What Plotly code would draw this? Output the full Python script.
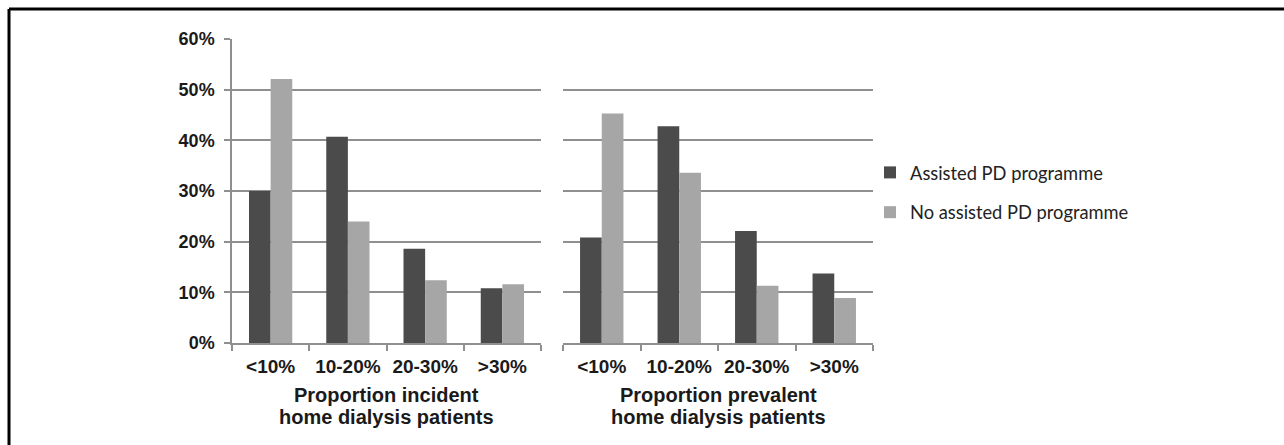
import plotly.graph_objects as go

categories = ["<10%", "10-20%", "20-30%", ">30%"]
incident_assisted = [30.0, 40.7, 18.6, 10.8]
incident_no_assisted = [52.1, 24.0, 12.4, 11.6]
prevalent_assisted = [20.8, 42.8, 22.1, 13.7]
prevalent_no_assisted = [45.3, 33.6, 11.3, 8.9]
y_ticks = [0, 10, 20, 30, 40, 50, 60]
y_tick_labels = ["0%", "10%", "20%", "30%", "40%", "50%", "60%"]
series_names = ["Assisted PD programme", "No assisted PD programme"]
panel_title_lines = [["Proportion incident", "home dialysis patients"],
                     ["Proportion prevalent", "home dialysis patients"]]

DARK = "#4b4b4b"
LIGHT = "#a6a6a6"
GRID = "#8f8f8f"
W, H = 1284, 445

fig = go.Figure()
fig.add_trace(go.Bar(x=categories, y=incident_assisted, name=series_names[0],
                     marker=dict(color=DARK, line=dict(width=0)),
                     xaxis="x", yaxis="y", legendgroup="a"))
fig.add_trace(go.Bar(x=categories, y=incident_no_assisted, name=series_names[1],
                     marker=dict(color=LIGHT, line=dict(width=0)),
                     xaxis="x", yaxis="y", legendgroup="b"))
fig.add_trace(go.Bar(x=categories, y=prevalent_assisted, name=series_names[0],
                     marker=dict(color=DARK, line=dict(width=0)),
                     xaxis="x2", yaxis="y2", legendgroup="a", showlegend=False))
fig.add_trace(go.Bar(x=categories, y=prevalent_no_assisted, name=series_names[1],
                     marker=dict(color=LIGHT, line=dict(width=0)),
                     xaxis="x2", yaxis="y2", legendgroup="b", showlegend=False))

ydom = [(H - 343) / H, (H - 39) / H]
FAM = "Liberation Sans, Arial, sans-serif"
tickfont_y = dict(family=FAM, size=18, color="#1a1a1a")
tickfont_x = dict(family=FAM, size=19, color="#1a1a1a")
titlefont = dict(family=FAM, size=20, color="#1a1a1a")

xdoms = [[232 / W, 541 / W], [563 / W, 873 / W]]
xcommon = dict(type="category", showgrid=False, showline=True, linecolor=GRID,
               linewidth=1.5, ticks="outside", tickson="boundaries", ticklen=6,
               tickcolor=GRID, tickwidth=1.5, tickfont=tickfont_x, automargin=False,
               ticklabelstandoff=5,
               tickvals=categories,
               ticktext=["<b>" + c.replace("<", "&lt;").replace(">", "&gt;") + "</b>"
                         for c in categories])
ycommon = dict(range=[0, 60], tickvals=y_ticks,
               ticktext=["<b>" + t + "</b>" for t in y_tick_labels],
               showgrid=True, gridcolor=GRID, gridwidth=1.5, zeroline=False,
               automargin=False, domain=ydom)

annotations = []
for i, lines in enumerate(panel_title_lines):
    cx = (xdoms[i][0] + xdoms[i][1]) / 2
    for j, (txt, ypix) in enumerate(zip(lines, [395, 417])):
        annotations.append(dict(text="<b>" + txt + "</b>", xref="paper", yref="paper",
                                x=cx, y=(H - ypix) / H, xanchor="center",
                                yanchor="middle", showarrow=False, font=titlefont))

fig.update_layout(
    width=W, height=H,
    margin=dict(l=0, r=0, t=0, b=0),
    paper_bgcolor="white", plot_bgcolor="white",
    barmode="group", bargap=0.44, bargroupgap=0.0,
    xaxis=dict(domain=xdoms[0], anchor="y", **xcommon),
    xaxis2=dict(domain=xdoms[1], anchor="y2", **xcommon),
    yaxis=dict(anchor="x", showline=True, linecolor=GRID, linewidth=1.5,
               ticks="outside", ticklen=6, tickcolor=GRID, tickwidth=1.5,
               ticklabelstandoff=6, tickfont=tickfont_y, **ycommon),
    yaxis2=dict(anchor="x2", showline=False, showticklabels=False, ticks="",
                **ycommon),
    legend=dict(x=870 / W, y=(H - 154) / H, xanchor="left", yanchor="top",
                font=dict(family="Lato, Carlito, sans-serif", size=18.3, color="#222222"),
                tracegroupgap=13, traceorder="grouped", bgcolor="rgba(0,0,0,0)",
                itemwidth=30),
    annotations=annotations,
    shapes=[
        dict(type="line", xref="paper", yref="paper", x0=9 / W, x1=9 / W,
             y0=(H - 9) / H, y1=-0.02, line=dict(color="black", width=3)),
        dict(type="line", xref="paper", yref="paper", x0=9 / W, x1=1.02,
             y0=(H - 9) / H, y1=(H - 9) / H, line=dict(color="black", width=3)),
    ],
)

fig.write_html("out.html", config={"displayModeBar": False},
               post_script="document.body.style.margin='0';document.body.style.overflow='hidden';")
